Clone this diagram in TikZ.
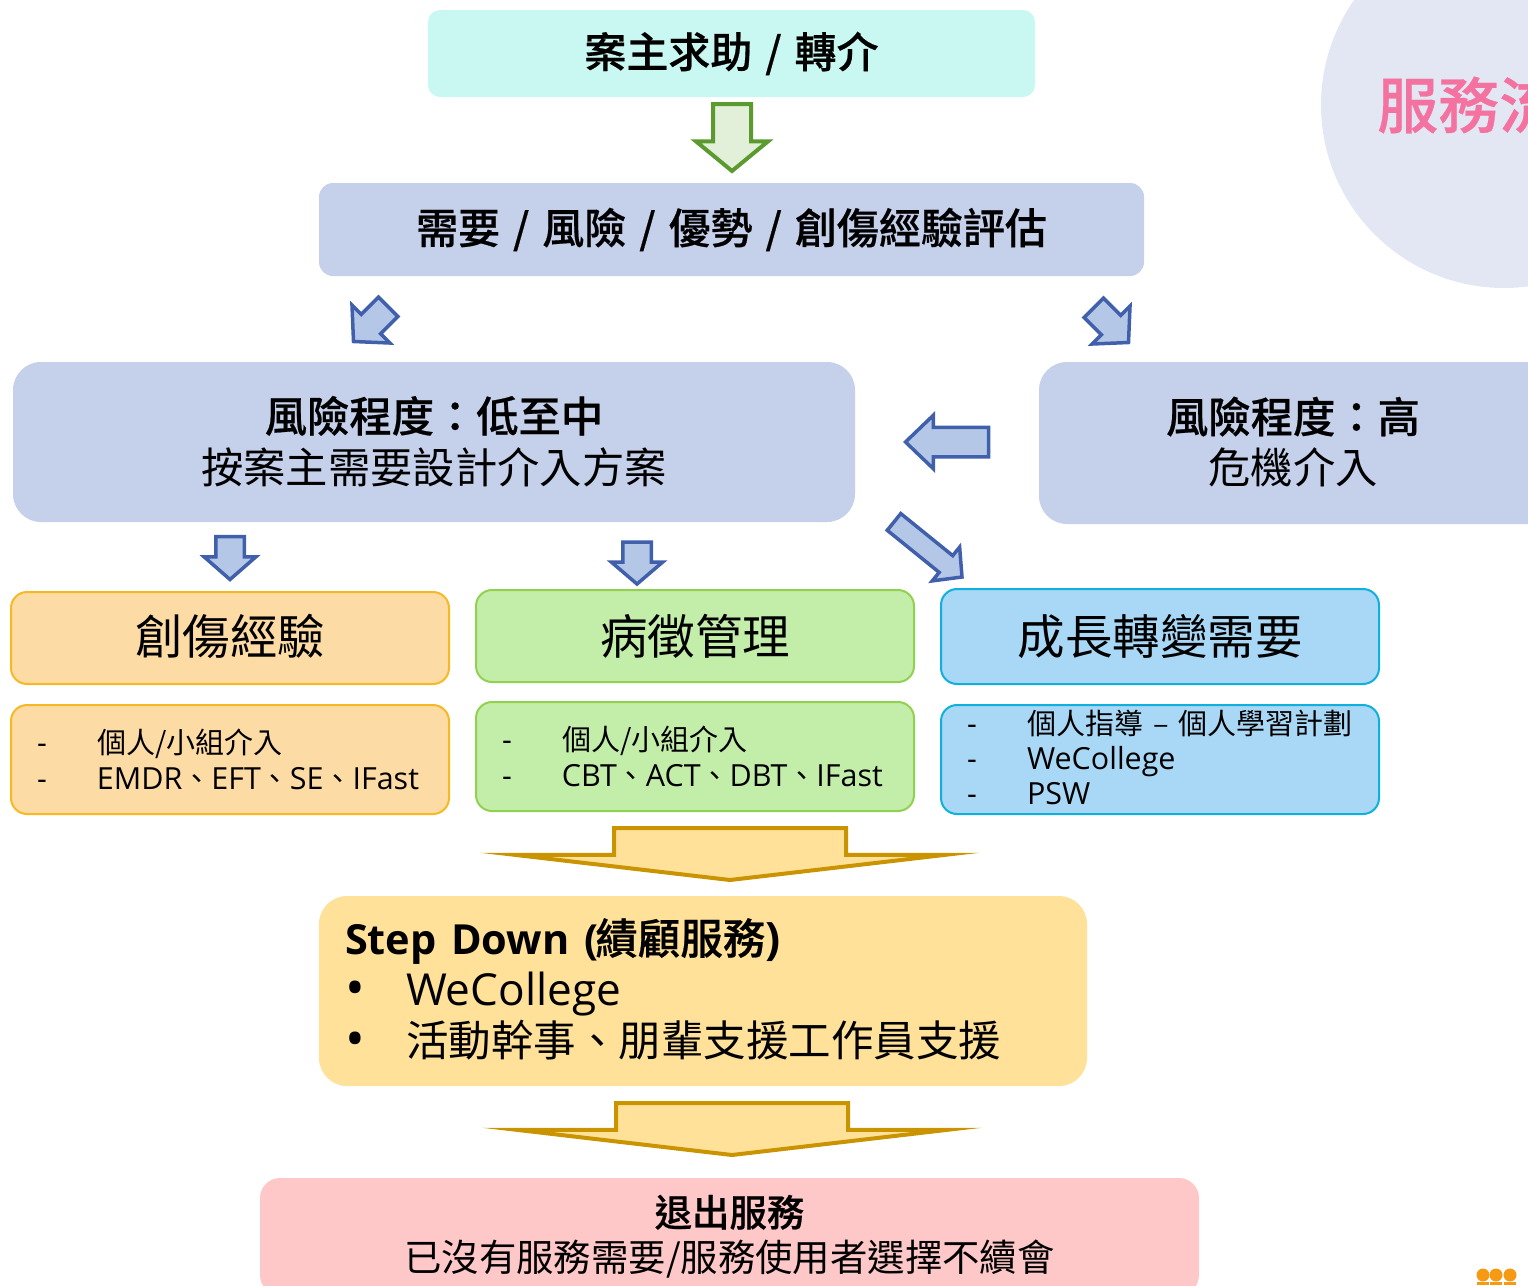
\documentclass[tikz,border=0pt]{standalone}
\usepackage{fontspec}
\usepackage{tikz}
\usetikzlibrary{shapes.arrows}
\setmainfont[Scale=1.05]{Open Sans}
\newfontfamily\cjkfont[BoldFont=* Medium, BoldFeatures={FakeBold=0.5}]{Noto Sans CJK TC}
\newcommand{\zh}[1]{{\cjkfont #1}}
\newcommand{\slashsep}{\hspace{3.5pt} / \hspace{3.5pt}}
\newcommand{\bigdot}{\makebox[61pt][l]{\raisebox{-1.5pt}{\fontsize{50}{51}\selectfont •}}}
\definecolor{topfill}{HTML}{C9F7F2}
\definecolor{mainfill}{HTML}{C5D0EA}
\definecolor{orangefill}{HTML}{FDDBA5}
\definecolor{orangeline}{HTML}{F7B923}
\definecolor{greenfill}{HTML}{C3EEAA}
\definecolor{greenline}{HTML}{92D050}
\definecolor{bluefill}{HTML}{A9D8F6}
\definecolor{blueline}{HTML}{0FB0DC}
\definecolor{stepfill}{HTML}{FFE199}
\definecolor{exitfill}{HTML}{FEC8C8}
\definecolor{circlefill}{HTML}{E3E7F4}
\definecolor{titlepink}{HTML}{F4729F}
\definecolor{arrowblue}{HTML}{4060AB}
\definecolor{arrowfill}{HTML}{B4C7E7}
\definecolor{arrowgreen}{HTML}{5B9A2F}
\definecolor{arrowpale}{HTML}{E2EFD9}
\definecolor{arrowgold}{HTML}{C99400}
\definecolor{arrowcream}{HTML}{FFE199}
\definecolor{logoorange}{HTML}{F59A12}

\begin{document}
\begin{tikzpicture}[x=1pt, y=1pt,
    mainbox/.style n args={2}{rectangle, minimum width=#1pt, minimum height=#2pt, inner sep=0pt, outer sep=0pt, text centered, align=center},
    headtext/.style={font=\fontsize{42.3}{51}\selectfont\cjkfont},
    headbox/.style={rectangle, rounded corners=16pt, minimum width=438pt, minimum height=92pt, line width=2pt, text centered, font=\fontsize{47.5}{56}\selectfont\cjkfont},
    listbox/.style={rectangle, rounded corners=16pt, minimum height=109pt, text width=386pt, inner xsep=26pt, inner ysep=0pt, line width=2pt, align=left, font=\fontsize{29}{36}\selectfont},
    orangebox/.style={draw=orangeline, fill=orangefill},
    greenbox/.style={draw=greenline, fill=greenfill},
    bluebox/.style={draw=blueline, fill=bluefill},
    arrowsize/.style n args={4}{single arrow, anchor=tip, inner xsep=0pt, inner ysep=#1pt/2, outer sep=0pt, minimum height=#3pt, single arrow head extend=(#2pt-#1pt)/2, single arrow tip angle={2*atan((#2)/2/(#4))}, miter limit=20},
    bluearrow/.style={draw=arrowblue, fill=arrowfill, line width=3.5pt},
    goldarrow/.style={draw=arrowgold, fill=arrowcream, line width=4pt}]

    \useasboundingbox (0,0) rectangle (1528,-1285);
    \clip (0,0) rectangle (1528,-1285);

    \node (circle) [circle, fill=circlefill, minimum size=366pt, inner sep=0pt] at (1504,-105) {};
    \node (title) [anchor=west, inner sep=0pt, text=titlepink, font=\fontsize{61}{70}\selectfont\cjkfont\bfseries] at (1377,-105) {服務流};

    \node (seek) [mainbox={607}{87}, rounded corners=12pt, fill=topfill, font=\fontsize{42}{51}\selectfont\cjkfont\bfseries] at (731.5,-53.5) {\raisebox{-1pt}{案主求助\slashsep 轉介}};
    \node (assess) [mainbox={825}{93}, rounded corners=14pt, fill=mainfill, font=\fontsize{42}{51}\selectfont\cjkfont\bfseries] at (731.5,-229.5) {\raisebox{-1.5pt}{需要\slashsep 風險\slashsep 優勢\slashsep 創傷經驗評估}};
    \node (low) [mainbox={842}{160}, rounded corners=28pt, fill=mainfill, headtext, text depth=5pt] at (434,-442) {{\bfseries 風險程度：低至中}\\按案主需要設計介入方案};
    \node (high) [mainbox={600}{162}, rounded corners=28pt, fill=mainfill] at (1339,-443) {};
    \node (hightext) [mainbox={400}{110}, headtext] at (1293,-442) {{\bfseries 風險程度：高}\\危機介入};

    \node (trauma) [headbox, orangebox, text depth=7pt] at (230,-638) {創傷經驗};
    \node (illness) [headbox, greenbox] at (695,-636) {病徵管理};
    \node (growth) [headbox, bluebox, minimum height=95pt] at (1160,-636.5) {成長轉變需要};

    \node (traumalist) [listbox, orangebox, below of=trauma, node distance=121.5pt] {\makebox[60pt][l]{-}\zh{個人/小組介入}\\\makebox[60pt][l]{-}EMDR\zh{、}EFT\zh{、}SE\zh{、}IFast};
    \node (illnesslist) [listbox, greenbox, below of=illness, node distance=120.5pt] {\makebox[60pt][l]{-}\zh{個人/小組介入}\\\makebox[60pt][l]{-}CBT\zh{、}ACT\zh{、}DBT\zh{、}IFast};
    \node (growthlist) [listbox, bluebox, below of=growth, node distance=123pt, font=\fontsize{29}{35.3}\selectfont] {\makebox[60pt][l]{-}\zh{個人指導 – 個人學習計劃}\\\makebox[60pt][l]{-}WeCollege\\\makebox[60pt][l]{-}PSW\par\kern4pt};

    \node (stepdown) [mainbox={768}{190}, rounded corners=28pt, fill=stepfill, text width=716pt, align=left, font=\fontsize{42}{51}\selectfont] at (703,-991) {{\bfseries\fontsize{39.5}{51}\selectfont Step Down (\hspace{-3pt}\fontsize{42.5}{51}\selectfont\zh{績顧服務})}\\\bigdot WeCollege\\\bigdot\zh{\fontsize{42.5}{51}\selectfont 活動幹事、朋輩支援工作員支援}\par\kern4pt};
    \node (leave) [mainbox={939}{117}, rounded corners=20pt, fill=exitfill, font=\fontsize{37.4}{45}\selectfont\cjkfont] at (729.5,-1236.5) {{\bfseries 退出服務}\\已沒有服務需要/服務使用者選擇不續會};

    \node (arrowseek) [arrowsize={34}{68}{67}{28}, draw=arrowgreen, fill=arrowpale, line width=4pt, rotate=-90] at (732,-171) {};
    \node (arrowlow) [arrowsize={24}{50}{49}{23}, bluearrow, rotate=225] at (353.5,-341.5) {};
    \node (arrowhigh) [arrowsize={24}{50}{49}{23}, bluearrow, rotate=-45] at (1128.5,-342.5) {};
    \node (arrowback) [arrowsize={26}{50}{83}{26}, bluearrow, rotate=180] at (905.5,-442) {};
    \node (arrowgrowth) [arrowsize={18}{40}{87.5}{19}, bluearrow, rotate=-39] at (962,-577) {};
    \node (arrowtrauma) [arrowsize={25}{48}{43}{21}, bluearrow, rotate=-90] at (230,-579.5) {};
    \node (arrowillness) [arrowsize={25}{48}{42}{20.5}, bluearrow, rotate=-90] at (637,-584) {};
    \node (arrowstep) [arrowsize={228}{427}{52}{25}, goldarrow, rotate=-90] at (730,-880) {};
    \node (arrowleave) [arrowsize={228}{427}{52}{25}, goldarrow, rotate=-90] at (732,-1155) {};

    \foreach \x in {1483,1496,1510} {
        \fill [logoorange] (\x,-1275) circle (6.5);
        \fill [logoorange] (\x-6,-1282) rectangle (\x+6,-1285);
    }

\end{tikzpicture}
\end{document}
